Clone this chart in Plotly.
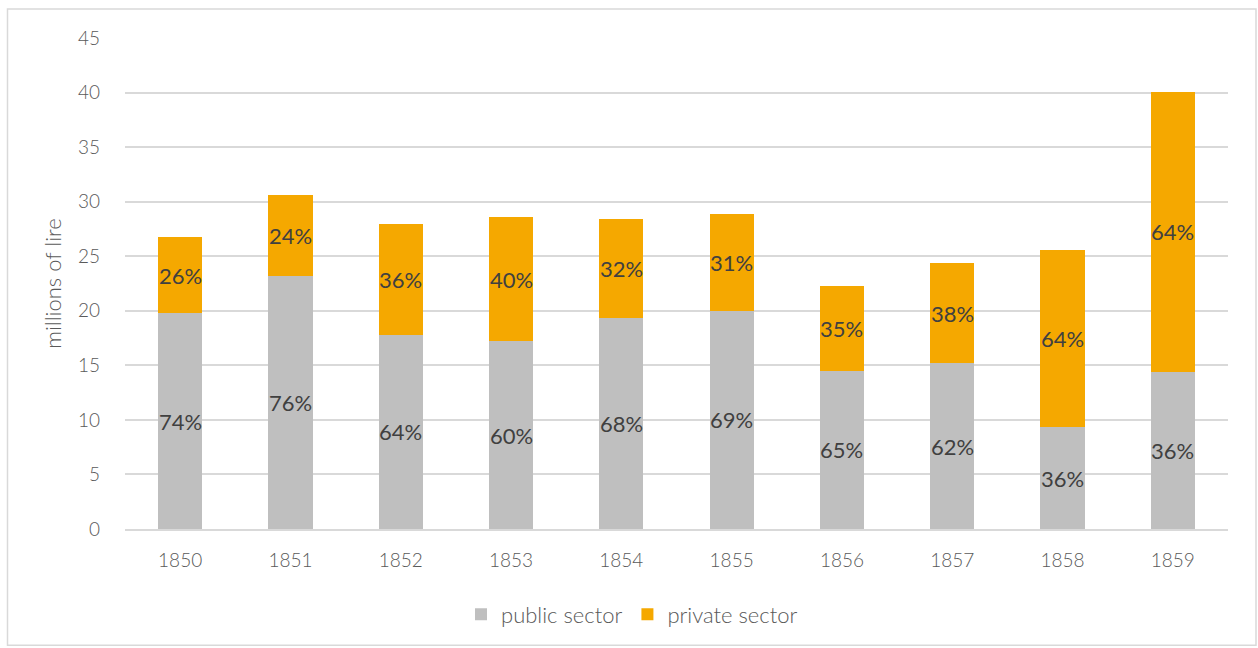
import plotly.graph_objects as go

# Annual investment split, millions of lire
years = ["1850", "1851", "1852", "1853", "1854", "1855", "1856", "1857", "1858", "1859"]
public_sector = [19.76, 23.2, 17.8, 17.23, 19.3, 20.0, 14.49, 15.19, 9.31, 14.42]
private_sector = [7.0, 7.44, 10.12, 11.33, 9.14, 8.87, 7.74, 9.17, 16.24, 25.66]
y_ticks = [0, 5, 10, 15, 20, 25, 30, 35, 40, 45]

GREY = "#BFBFBF"
ORANGE = "#F5A800"
TEXT = "#595959"
LABEL = "#404040"
FONT = "Lato"

W, H = 1258, 648
ML, MR, MT, MB = 125, 30, 37.5, 118.5

fig = go.Figure()
fig.add_trace(go.Bar(x=years, y=public_sector, name="public sector",
                     marker=dict(color=GREY, line=dict(width=0))))
fig.add_trace(go.Bar(x=years, y=private_sector, name="private sector",
                     marker=dict(color=ORANGE, line=dict(width=0))))

# percentage share labels centred in each segment (x given as category index)
label_font = dict(size=22, color=LABEL, family=FONT, weight=400)
annotations = []
for i, (pub, priv) in enumerate(zip(public_sector, private_sector)):
    total = pub + priv
    annotations.append(dict(x=i, y=pub / 2, text=f"{round(pub / total * 100)}%",
                            showarrow=False, font=label_font))
    annotations.append(dict(x=i, y=pub + priv / 2, text=f"{round(priv / total * 100)}%",
                            showarrow=False, font=label_font))

pw = W - ML - MR
ph = H - MT - MB


def px_x(p):
    return (p - ML) / pw


def px_y(p):
    return (H - MB - p) / ph


fig.update_layout(
    width=W, height=H,
    margin=dict(l=ML, r=MR, t=MT, b=MB, pad=0),
    barmode="stack", bargap=0.6,
    plot_bgcolor="white", paper_bgcolor="white",
    font=dict(family=FONT, color=TEXT, size=19),
    showlegend=True,
    legend=dict(orientation="h", x=px_x(632), xanchor="center", y=px_y(615), yanchor="middle",
                font=dict(size=22, color=TEXT, family=FONT, weight=300), traceorder="normal"),
    annotations=annotations,
    shapes=[dict(type="rect", xref="paper", yref="paper",
                 x0=px_x(7.5), x1=px_x(1256), y0=px_y(646), y1=px_y(8.5),
                 line=dict(color="#D9D9D9", width=1.5), fillcolor="rgba(0,0,0,0)", layer="below")],
)

fig.update_xaxes(type="category", range=[-0.5, len(years) - 0.5], showgrid=False,
                 showline=True, linecolor="#D9D9D9", linewidth=1.5, ticks="",
                 ticklabelstandoff=13, tickfont=dict(size=19, color=TEXT, weight=300))
fig.update_yaxes(range=[0, 45], tickvals=y_ticks, showgrid=True, gridcolor="#D9D9D9",
                 gridwidth=1.5, zeroline=False, showline=False, ticks="",
                 ticklabelstandoff=24, tickfont=dict(size=19, color=TEXT, weight=300),
                 title=dict(text="millions of lire", font=dict(size=22, color=TEXT, weight=300),
                            standoff=10))

fig.write_html("out.html")
